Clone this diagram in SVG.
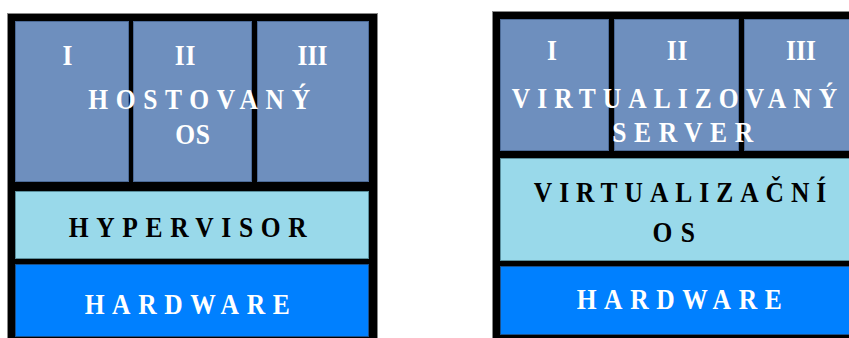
<svg xmlns="http://www.w3.org/2000/svg" width="849" height="338" viewBox="0 0 849 338">
<style>
.frame{fill:#000;stroke:#888;stroke-width:1}
.guest{fill:#6E8FBE;stroke:#4C6A96;stroke-width:1}
.mid{fill:#99D9EA;stroke:#5B8E9C;stroke-width:1}
.hw{fill:#0080FF;stroke:#1A4F8A;stroke-width:1}
text{font-family:"Liberation Serif","Times New Roman",serif;font-weight:bold;font-size:30px;text-anchor:middle}
.w{fill:#fff}
.k{fill:#000}
.sp{letter-spacing:9px}
.num{letter-spacing:1px}
</style>
<rect width="849" height="338" fill="#fff"/>
<g id="left-stack">
<rect class="frame" x="7.5" y="13.5" width="370" height="330"/>
<g id="l-guest-1"><rect class="guest" x="15.5" y="21.5" width="113" height="160"/></g>
<g id="l-guest-2"><rect class="guest" x="133.5" y="21.5" width="118" height="160"/></g>
<g id="l-guest-3"><rect class="guest" x="257.5" y="21.5" width="111" height="160"/></g>
<g id="l-hypervisor"><rect class="mid" x="15.5" y="191.5" width="353" height="67"/></g>
<g id="l-hardware"><rect class="hw" x="15.5" y="264.5" width="353" height="72"/></g>
<g transform="translate(67.5,65) scale(0.85,1)"><text class="w">I</text></g>
<g transform="translate(185.5,65) scale(0.85,1)"><text class="w num">II</text></g>
<g transform="translate(312.5,65) scale(0.85,1)"><text class="w">III</text></g>
<g transform="translate(203,109) scale(0.85,1)"><text class="w sp">HOSTOVANÝ</text></g>
<g transform="translate(193,144) scale(0.85,1)"><text class="w" style="letter-spacing:1px">OS</text></g>
<g transform="translate(191.5,237) scale(0.85,1)"><text class="k sp">HYPERVISOR</text></g>
<g transform="translate(191,314) scale(0.85,1)"><text class="w sp">HARDWARE</text></g>
</g>
<g id="right-stack">
<rect class="frame" x="492.5" y="11.5" width="370" height="330"/>
<g id="r-guest-1"><rect class="guest" x="500.5" y="19.5" width="108" height="131"/></g>
<g id="r-guest-2"><rect class="guest" x="614.5" y="19.5" width="124" height="131"/></g>
<g id="r-guest-3"><rect class="guest" x="744.5" y="19.5" width="120" height="131"/></g>
<g id="r-virt-os"><rect class="mid" x="500.5" y="158.5" width="364" height="102"/></g>
<g id="r-hardware"><rect class="hw" x="500.5" y="266.5" width="364" height="68"/></g>
<g transform="translate(552,60) scale(0.85,1)"><text class="w">I</text></g>
<g transform="translate(677.5,60) scale(0.85,1)"><text class="w num">II</text></g>
<g transform="translate(801,60) scale(0.85,1)"><text class="w">III</text></g>
<g transform="translate(678,108) scale(0.85,1)"><text class="w" style="letter-spacing:8.3px">VIRTUALIZOVANÝ</text></g>
<g transform="translate(686.5,142) scale(0.85,1)"><text class="w sp">SERVER</text></g>
<g transform="translate(683.5,202) scale(0.85,1)"><text class="k" style="letter-spacing:8.2px">VIRTUALIZAČNÍ</text></g>
<g transform="translate(678,242) scale(0.85,1)"><text class="k" style="letter-spacing:10px">OS</text></g>
<g transform="translate(683,309) scale(0.85,1)"><text class="w sp">HARDWARE</text></g>
</g>
<g id="connectors"/>
</svg>
